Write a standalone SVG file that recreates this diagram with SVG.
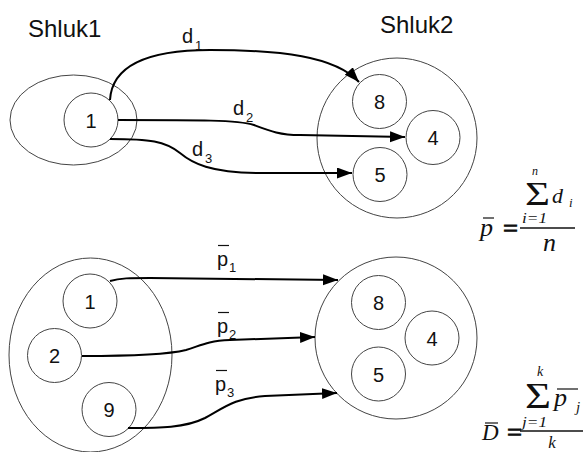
<svg xmlns="http://www.w3.org/2000/svg" width="584" height="452" viewBox="0 0 584 452">
<style>
.shape{fill:none;stroke:#444;stroke-width:1}
.edge{fill:none;stroke:#000;stroke-width:2}
.lbl{font-family:"Liberation Sans",Arial,sans-serif;fill:#111}
.num{font-family:"Liberation Sans",Arial,sans-serif;font-size:20px;fill:#111;text-anchor:middle}
.m{font-family:"Liberation Serif","Times New Roman",serif;fill:#111}
.it{font-style:italic}
.eq{stroke:#111;stroke-width:0.8}
.bar{stroke:#111;stroke-width:1.2}
</style>
<defs>
<marker id="arr" markerUnits="userSpaceOnUse" markerWidth="16" markerHeight="12" refX="15" refY="5.5" orient="auto">
<path d="M0,0 L15,5.5 L0,11 z" fill="#000"/>
</marker>
</defs>
<rect width="584" height="452" fill="#fff"/>
<text class="lbl" x="28" y="37" font-size="24">Shluk1</text>
<text class="lbl" x="380" y="33" font-size="24">Shluk2</text>

<g id="cluster1-top"><ellipse class="shape" cx="73.5" cy="120" rx="63.5" ry="45"/></g>
<g id="node1-top"><circle class="shape" cx="91" cy="120" r="27"/><text class="num" x="91" y="128">1</text></g>
<g id="cluster2-top"><circle class="shape" cx="397" cy="138" r="80"/></g>
<g id="node8-top"><circle class="shape" cx="379.5" cy="101.5" r="27"/><text class="num" x="379.5" y="109">8</text></g>
<g id="node4-top"><circle class="shape" cx="433" cy="137.5" r="27"/><text class="num" x="433" y="145">4</text></g>
<g id="node5-top"><circle class="shape" cx="380" cy="174.5" r="27"/><text class="num" x="380" y="182">5</text></g>

<g id="cluster1-bottom"><ellipse class="shape" cx="90.5" cy="355" rx="81.5" ry="97"/></g>
<g id="node1-bottom"><circle class="shape" cx="90" cy="301" r="27"/><text class="num" x="90" y="308.5">1</text></g>
<g id="node2-bottom"><circle class="shape" cx="54.5" cy="355.5" r="27"/><text class="num" x="54.5" y="363">2</text></g>
<g id="node9-bottom"><circle class="shape" cx="109" cy="409.5" r="27"/><text class="num" x="109" y="417">9</text></g>
<g id="cluster2-bottom"><circle class="shape" cx="396" cy="338" r="81"/></g>
<g id="node8-bottom"><circle class="shape" cx="378.5" cy="302.5" r="27"/><text class="num" x="378.5" y="310">8</text></g>
<g id="node4-bottom"><circle class="shape" cx="432" cy="338" r="27"/><text class="num" x="432" y="345.5">4</text></g>
<g id="node5-bottom"><circle class="shape" cx="378.5" cy="374" r="27"/><text class="num" x="378.5" y="381.5">5</text></g>

<g id="connectors">
<path class="edge" marker-end="url(#arr)" d="M110,100 C112,66 148,50 210,50 C280,50 335,56 359,82"/>
<path class="edge" marker-end="url(#arr)" d="M118,120 C200,120 238,120 254,125 C270,131 280,135 300,135 L405,137"/>
<path class="edge" marker-end="url(#arr)" d="M110,139 C150,139 165,141 180,153 C192,163 210,173 260,173 L352,173"/>
<path class="edge" marker-end="url(#arr)" d="M110,281 C120,278 130,278 150,278 L338,280"/>
<path class="edge" marker-end="url(#arr)" d="M82,356 C140,356 170,354 186,350 C200,346 206,341 230,340 L315,337"/>
<path class="edge" marker-end="url(#arr)" d="M128,428 C160,428 185,428 205,418 C225,407 235,398 265,396 L337,393"/>
</g>

<g id="edge-labels">
<text class="lbl" x="182" y="43" font-size="20">d</text><text class="lbl" x="195" y="50" font-size="13">1</text>
<text class="lbl" x="233" y="115" font-size="20">d</text><text class="lbl" x="246" y="122" font-size="13">2</text>
<text class="lbl" x="192" y="156" font-size="20">d</text><text class="lbl" x="205" y="163" font-size="13">3</text>
<line class="bar" x1="218" y1="245.5" x2="229" y2="245.5"/>
<text class="lbl" x="217" y="266" font-size="20">p</text><text class="lbl" x="229" y="272" font-size="13">1</text>
<line class="bar" x1="218" y1="312.5" x2="229" y2="312.5"/>
<text class="lbl" x="217" y="333" font-size="20">p</text><text class="lbl" x="229" y="339" font-size="13">2</text>
<line class="bar" x1="216" y1="370.5" x2="227" y2="370.5"/>
<text class="lbl" x="215" y="391" font-size="20">p</text><text class="lbl" x="227" y="397" font-size="13">3</text>
</g>

<g id="formula1">
<text class="m it" x="535" y="175" font-size="12" text-anchor="middle">n</text>
<text class="m" x="525" y="205" font-size="33" textLength="25" lengthAdjust="spacingAndGlyphs">Σ</text>
<text class="m it" x="552" y="203" font-size="22">d</text>
<text class="m it" x="569" y="207" font-size="13">i</text>
<text class="m it" x="522" y="223" font-size="14" textLength="25" lengthAdjust="spacingAndGlyphs">i=1</text>
<line class="bar" x1="483" y1="218" x2="494" y2="218"/>
<text class="m it" x="480" y="236" font-size="26">p</text>
<text class="m eq" x="503" y="237" font-size="26" textLength="15" lengthAdjust="spacingAndGlyphs">=</text>
<line x1="520" y1="228" x2="575" y2="228" stroke="#111" stroke-width="1.3"/>
<text class="m it" x="549.5" y="251" font-size="26" text-anchor="middle">n</text>
</g>

<g id="formula2">
<text class="m it" x="540" y="376" font-size="14" text-anchor="middle">k</text>
<text class="m" x="525" y="408" font-size="35" textLength="26" lengthAdjust="spacingAndGlyphs">Σ</text>
<line class="bar" x1="557" y1="389" x2="578" y2="389"/>
<text class="m it" x="554" y="406" font-size="26">p</text>
<text class="m it" x="576" y="412" font-size="15">j</text>
<text class="m it" x="522" y="427" font-size="14" textLength="25" lengthAdjust="spacingAndGlyphs">j=1</text>
<line class="bar" x1="485" y1="423" x2="498" y2="423"/>
<text class="m it" x="482" y="440" font-size="23">D</text>
<text class="m eq" x="507" y="441" font-size="26" textLength="15" lengthAdjust="spacingAndGlyphs">=</text>
<line x1="520" y1="431" x2="583" y2="431" stroke="#111" stroke-width="1.3"/>
<text class="m it" x="552" y="448" font-size="17" text-anchor="middle">k</text>
</g>
</svg>
